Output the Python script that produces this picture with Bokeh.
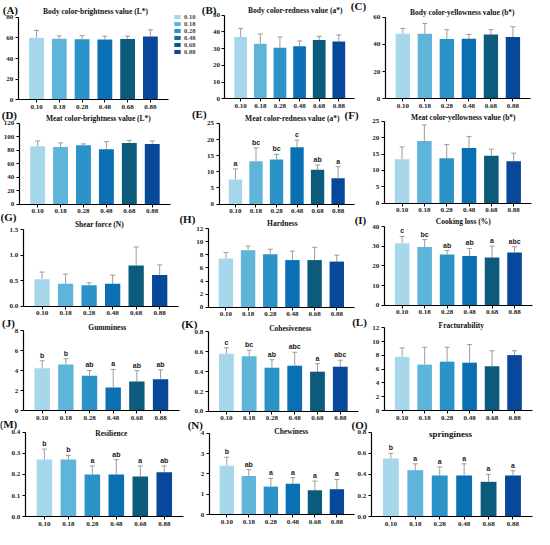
from bokeh.plotting import figure
from bokeh.models import (ColumnDataSource, Range1d, FixedTicker, Whisker, TeeHead, Label,
                          Legend, LegendItem, LinearAxis, PrintfTickFormatter)
from bokeh.embed import file_html
from bokeh.resources import INLINE
from bokeh.core.properties import value

# ---------------- data ----------------
cats = ["0.10", "0.18", "0.28", "0.48", "0.68", "0.88"]
colors = ["#a6d7ea", "#5fb4d9", "#2b93c7", "#0b70b3", "#0c5b7c", "#08489a"]

A_mean = [60.1, 59.1, 58.6, 58.5, 59.0, 61.3]
A_upper = [67.2, 62.0, 62.3, 61.7, 61.7, 67.8]
B_mean = [37.0, 33.0, 30.5, 31.5, 35.2, 34.3]
B_upper = [42.2, 38.8, 37.0, 34.6, 37.4, 38.2]
C_mean = [47.8, 47.8, 43.9, 44.2, 47.3, 45.4]
C_upper = [51.8, 55.4, 50.8, 47.3, 50.9, 53.0]
D_mean = [86.0, 84.8, 87.5, 81.5, 90.8, 89.5]
D_upper = [93.8, 91.0, 89.5, 92.8, 94.8, 93.8]
E_mean = [7.6, 13.3, 13.8, 17.6, 10.6, 8.0]
E_upper = [10.9, 17.4, 15.4, 19.8, 12.1, 11.6]
E_letters = ["a", "bc", "bc", "c", "ab", "a"]
F_mean = [13.4, 19.0, 13.7, 16.9, 14.5, 12.8]
F_upper = [17.2, 23.9, 17.9, 20.4, 16.5, 15.3]
G_mean = [0.53, 0.44, 0.41, 0.44, 0.80, 0.61]
G_upper = [0.67, 0.63, 0.46, 0.61, 1.16, 0.81]
H_mean = [7.45, 8.7, 8.1, 7.2, 7.2, 6.97]
H_upper = [8.36, 9.35, 8.86, 8.56, 9.15, 7.96]
I_mean = [31.6, 29.6, 25.8, 25.1, 24.3, 26.9]
I_upper = [35.0, 33.4, 27.8, 28.9, 30.1, 29.8]
I_letters = ["c", "bc", "ab", "ab", "a", "abc"]
J_mean = [4.25, 4.61, 3.49, 2.32, 2.92, 3.15]
J_upper = [5.0, 5.2, 4.02, 4.12, 4.0, 4.08]
J_letters = ["b", "b", "ab", "a", "ab", "ab"]
K_mean = [0.58, 0.555, 0.44, 0.46, 0.40, 0.45]
K_upper = [0.64, 0.615, 0.52, 0.595, 0.48, 0.515]
K_letters = ["c", "bc", "ab", "abc", "a", "abc"]
L_mean = [7.8, 6.67, 7.1, 6.95, 6.43, 8.05]
L_upper = [9.1, 9.19, 9.19, 9.57, 8.68, 8.68]
M_mean = [0.27, 0.27, 0.20, 0.20, 0.19, 0.21]
M_upper = [0.32, 0.29, 0.24, 0.27, 0.24, 0.24]
M_letters = ["b", "b", "a", "ab", "a", "ab"]
N_mean = [2.4, 1.9, 1.38, 1.52, 1.2, 1.25]
N_upper = [2.82, 2.21, 1.78, 1.82, 1.65, 1.73]
N_letters = ["b", "ab", "a", "a", "a", "a"]
O_mean = [0.55, 0.44, 0.39, 0.39, 0.33, 0.39]
O_upper = [0.60, 0.50, 0.47, 0.50, 0.40, 0.435]
O_letters = ["b", "a", "a", "a", "a", "a"]

titles = {
    "A": "Body color-brightness value (L*)",
    "B": "Body color-redness value (a*)",
    "C": "Body color-yellowness value (b*)",
    "D": "Meat color-brightness value (L*)",
    "E": "Meat color-redness value (a*)",
    "F": "Meat color-yellowness value (b*)",
    "G": "Shear force (N)",
    "H": "Hardness",
    "I": "Cooking loss (%)",
    "J": "Gumminess",
    "K": "Cohesiveness",
    "L": "Fracturability",
    "M": "Resilience",
    "N": "Chewiness",
    "O": "springiness",
}
yticks = {
    "A": [0, 20, 40, 60, 80],
    "B": [0, 10, 20, 30, 40, 50],
    "C": [0, 20, 40, 60],
    "D": [0, 20, 40, 60, 80, 100, 120],
    "E": [0, 5, 10, 15, 20, 25],
    "F": [0, 5, 10, 15, 20, 25],
    "G": [0.0, 0.5, 1.0, 1.5],
    "H": [0, 2, 4, 6, 8, 10, 12],
    "I": [0, 10, 20, 30, 40],
    "J": [0, 2, 4, 6, 8],
    "K": [0.0, 0.2, 0.4, 0.6, 0.8],
    "L": [0, 2, 4, 6, 8, 10, 12],
    "M": [0.0, 0.1, 0.2, 0.3, 0.4],
    "N": [0, 1, 2, 3, 4],
    "O": [0.0, 0.2, 0.4, 0.6, 0.8],
}
decimal_ticks = {"G", "K", "M", "O"}
means = {"A": A_mean, "B": B_mean, "C": C_mean, "D": D_mean, "E": E_mean, "F": F_mean,
         "G": G_mean, "H": H_mean, "I": I_mean, "J": J_mean, "K": K_mean, "L": L_mean,
         "M": M_mean, "N": N_mean, "O": O_mean}
uppers = {"A": A_upper, "B": B_upper, "C": C_upper, "D": D_upper, "E": E_upper, "F": F_upper,
          "G": G_upper, "H": H_upper, "I": I_upper, "J": J_upper, "K": K_upper, "L": L_upper,
          "M": M_upper, "N": N_upper, "O": O_upper}
letters = {"E": E_letters, "I": I_letters, "J": J_letters, "K": K_letters,
           "M": M_letters, "N": N_letters, "O": O_letters}

# ---------------- layout (pixel positions of each panel's axes box) ----------------
W, H = 534, 528
# axes box: left, right, top (top tick), bottom (zero line)
boxes = {
    "A": (20, 172, 21, 105), "B": (229, 360, 19, 104), "C": (391, 538, 21, 104),
    "D": (21, 174, 129, 211), "E": (223, 360, 129, 211), "F": (390, 539, 127, 210),
    "G": (25, 182, 237, 315), "H": (212, 360, 236, 316), "I": (390, 540, 234, 314),
    "J": (25, 183, 340, 421), "K": (212, 364, 341, 422), "L": (390, 540, 337, 421),
    "M": (27, 187, 443, 529), "N": (213, 360, 444, 527), "O": (377, 540, 443, 529),
}
title_xy = {"A": (98, 15), "B": (300, 14), "C": (469, 16), "D": (101, 124), "E": (297, 124),
            "F": (470, 123), "G": (102, 232), "H": (287, 231), "I": (470, 229),
            "J": (110, 337), "K": (295, 338), "L": (468, 335), "M": (114, 444),
            "N": (296, 442), "O": (457, 445)}
plabel_xy = {"A": (12, 14), "B": (213, 14), "C": (364, 10), "D": (11, 120), "E": (203, 119),
             "F": (357, 120), "G": (10, 224), "H": (191, 226), "I": (366, 227),
             "J": (10, 332), "K": (193, 333), "L": (365, 331), "M": (10, 435),
             "N": (199, 436), "O": (365, 436)}


def fx(x):  # reference picture x -> canvas x
    return (x - 2) * W / 540.0


def fy(y):  # reference picture y -> canvas y measured upward
    return H - (y - 4) * H / 537.0


SERIF = "Liberation Serif"
SANS = "Liberation Sans"
ERR = "#9c9c9c"
PAD = 0.8  # half category + padding, in category units

p = figure(width=W, height=H, output_backend="svg", toolbar_location=None,
           x_range=Range1d(0, W), y_range=Range1d(0, H),
           x_axis_type=None, y_axis_type=None, title_location=None,
           min_border=0, min_border_left=0, min_border_right=0,
           min_border_top=0, min_border_bottom=0)
p.outline_line_color = None
p.background_fill_color = "white"
p.border_fill_color = "white"

idx = list(range(len(cats)))
legend_renderer = None

for key in "ABCDEFGHIJKLMNO":
    ticks = yticks[key]
    top = ticks[-1]
    L, R, T, B = boxes[key]
    xl, xr = fx(L), fx(R)
    sx = (xr - xl) / (len(cats) - 1 + 2 * PAD)
    xs = -PAD - xl / sx
    yb, yt = fy(B), fy(T)
    sy = (yt - yb) / top
    ys = -yb / sy
    xn, yn = "x" + key, "y" + key
    p.extra_x_ranges[xn] = Range1d(xs, xs + W / sx)
    p.extra_y_ranges[yn] = Range1d(ys, ys + H / sy)

    src = ColumnDataSource(dict(x=idx, mean=means[key], upper=uppers[key], color=colors))
    r = p.vbar(x="x", top="mean", bottom=0, width=0.65, fill_color="color",
               line_color=None, source=src, x_range_name=xn, y_range_name=yn)
    if key == "A":
        legend_renderer = r
    p.add_layout(Whisker(source=src, base="x", upper="upper", lower="mean",
                         dimension="height", line_color=ERR, line_width=1,
                         upper_head=TeeHead(size=5, line_color=ERR, line_width=1),
                         lower_head=None, x_range_name=xn, y_range_name=yn))
    if key in letters:
        lsrc = ColumnDataSource(dict(x=idx, upper=uppers[key], lab=letters[key]))
        p.text(x="x", y="upper", text="lab", source=lsrc, text_align="center",
               text_baseline="bottom", y_offset=-2, text_font=value(SANS),
               text_font_style="bold", text_font_size="7px", text_color="#222222",
               x_range_name=xn, y_range_name=yn)

    yax = LinearAxis(x_range_name=xn, y_range_name=yn, fixed_location=-PAD,
                     bounds=(0, top), ticker=FixedTicker(ticks=ticks))
    if key in decimal_ticks:
        yax.formatter = PrintfTickFormatter(format="%.1f")
    xax = LinearAxis(x_range_name=xn, y_range_name=yn, fixed_location=0,
                     bounds=(-PAD, len(cats) - 1 + PAD), ticker=FixedTicker(ticks=idx),
                     major_label_overrides={i: c for i, c in zip(idx, cats)})
    for ax in (xax, yax):
        ax.axis_line_color = "black"
        ax.axis_line_width = 1.2
        ax.major_tick_line_color = "black"
        ax.major_tick_line_width = 1
        ax.major_tick_in = 0
        ax.major_tick_out = 3
        ax.minor_tick_line_color = None
        ax.major_label_text_font = SERIF
        ax.major_label_text_font_style = "bold"
        ax.major_label_text_font_size = "7px"
        ax.major_label_text_color = "#222222"
        ax.major_label_standoff = 2
    p.add_layout(yax, "left")
    p.add_layout(xax, "below")

    tx, ty = title_xy[key]
    p.add_layout(Label(x=fx(tx), y=fy(ty), text=titles[key], text_align="center",
                       text_baseline="middle", text_font=SERIF, text_font_style="bold",
                       text_font_size="9px" if key == "O" else "7.5px",
                       text_color="#111111"))
    lx, ly = plabel_xy[key]
    p.add_layout(Label(x=fx(lx), y=fy(ly), text="(" + key + ")", text_align="center",
                       text_baseline="middle", text_font=SERIF, text_font_style="bold",
                       text_font_size="11px", text_color="#111111"))

leg = Legend(items=[LegendItem(label=c, renderers=[legend_renderer], index=i)
                    for i, c in enumerate(cats)],
             location=(fx(177), fy(60)), orientation="vertical",
             glyph_width=8, glyph_height=5, label_text_font=SERIF,
             label_text_font_style="bold", label_text_font_size="6.5px",
             label_height=6, label_standoff=3, spacing=0, padding=0, margin=0,
             border_line_color=None, background_fill_alpha=0)
p.add_layout(leg, "center")

open("out.html", "w").write(file_html(p, INLINE))
